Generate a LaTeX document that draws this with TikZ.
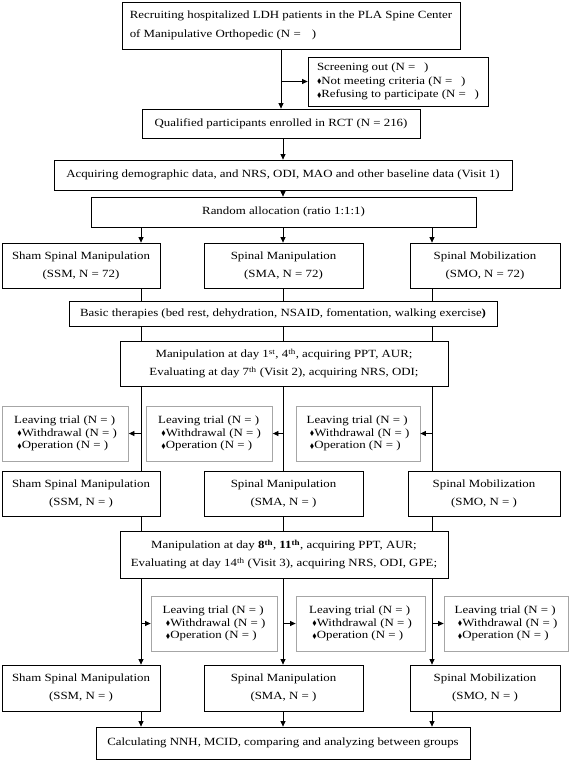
\documentclass[tikz,border=0pt]{standalone}
\usepackage{amssymb}
\usepackage{fontspec}
\setmainfont{Liberation Serif}[FakeStretch=1.17]
\usetikzlibrary{arrows.meta,positioning,calc}
\newcommand{\dia}{\raisebox{0.4pt}{\scalebox{0.6}{$\blacklozenge$}}}

\begin{document}
\begin{tikzpicture}[
    x=1pt, y=-1pt,
    box/.style={rectangle, draw, line width=0.8pt, inner sep=0pt, align=center, font=\fontsize{11}{18}\selectfont},
    leavebox/.style={rectangle, draw=gray!70, line width=0.8pt, inner sep=0pt, align=left, minimum width=126pt, minimum height=55pt, font=\fontsize{11}{12.8}\selectfont},
    arrow/.style={-{Triangle[length=5.5pt,width=5pt]}, line width=0.8pt},
    line/.style={line width=0.8pt}
]
\useasboundingbox (0,0) rectangle (569,761);

% columns of the three groups
\coordinate (c1) at (141,0);
\coordinate (c2) at (283,0);
\coordinate (c3) at (432,0);

\node[box, align=left, minimum width=338pt, minimum height=47pt, font=\fontsize{11}{19}\selectfont] (recruit) at (291,25.5)
    {Recruiting hospitalized LDH patients in the PLA Spine Center\\of Manipulative Orthopedic (N =\hspace{1em})};
\node[box, align=left, minimum width=180pt, minimum height=49pt, font=\fontsize{11}{13.5}\selectfont] (screen) at (398,81.5)
    {Screening out (N =\hspace{0.8em})\\\dia Not meeting criteria (N =\hspace{0.8em})\\\dia Refusing to participate (N =\hspace{0.8em})};
\node[box, minimum width=278pt, minimum height=29pt] (qual) at (281,123.5)
    {Qualified participants enrolled in RCT (N = 216)};
\node[box, minimum width=458pt, minimum height=30pt] (acq) at (283,175)
    {Acquiring demographic data, and NRS, ODI, MAO and other baseline data (Visit 1)};
\node[box, minimum width=385pt, minimum height=30pt] (rand) at (283.5,212)
    {Random allocation (ratio 1:1:1)};

\node[box, minimum width=158pt, minimum height=45pt] (ssm1) at (81,265.5)
    {Sham Spinal Manipulation\\(SSM, N = 72)};
\node[box, minimum width=159pt, minimum height=45pt] (sma1) at (283.5,265.5)
    {Spinal Manipulation\\(SMA, N = 72)};
\node[box, minimum width=150pt, minimum height=45pt] (smo1) at (485,265.5)
    {Spinal Mobilization\\(SMO, N = 72)};

\node[box, minimum width=428pt, minimum height=25pt] (basic) at (283,313.5)
    {Basic therapies (bed rest, dehydration, NSAID, fomentation, walking exercise\textbf{)}};
\node[box, minimum width=328pt, minimum height=45pt] (manip1) at (284,363.5)
    {Manipulation at day 1\textsuperscript{st}, 4\textsuperscript{th}, acquiring PPT, AUR;\\
     Evaluating at day 7\textsuperscript{th} (Visit 2), acquiring NRS, ODI;};

\node[leavebox] (leave1) at (65.5,433.5)
    {Leaving trial (N = )\\\ \dia Withdrawal (N = )\\\ \dia Operation (N = )};
\node[leavebox] (leave2) at (209.5,433.5)
    {Leaving trial (N = )\\\ \dia Withdrawal (N = )\\\ \dia Operation (N = )};
\node[leavebox, minimum width=124pt] (leave3) at (358,433.5)
    {Leaving trial (N = )\\\ \dia Withdrawal (N = )\\\ \dia Operation (N = )};

\node[box, minimum width=158pt, minimum height=45pt] (ssm2) at (81,493.5)
    {Sham Spinal Manipulation\\(SSM, N = )};
\node[box, minimum width=159pt, minimum height=45pt] (sma2) at (283.5,493.5)
    {Spinal Manipulation\\(SMA, N = )};
\node[box, minimum width=152pt, minimum height=45pt] (smo2) at (484,493.5)
    {Spinal Mobilization\\(SMO, N = )};

\node[box, minimum width=328pt, minimum height=47pt] (manip2) at (284,554.5)
    {Manipulation at day \textbf{8}\textsuperscript{\textbf{th}}, \textbf{11}\textsuperscript{\textbf{th}}, acquiring PPT, AUR;\\
     Evaluating at day 14\textsuperscript{th} (Visit 3), acquiring NRS, ODI, GPE;};

\node[leavebox] (leave4) at (214,623.5)
    {Leaving trial (N = )\\\ \dia Withdrawal (N = )\\\ \dia Operation (N = )};
\node[leavebox, minimum width=129pt] (leave5) at (360.5,623.5)
    {Leaving trial (N = )\\\ \dia Withdrawal (N = )\\\ \dia Operation (N = )};
\node[leavebox, minimum width=124pt] (leave6) at (506,623.5)
    {Leaving trial (N = )\\\ \dia Withdrawal (N = )\\\ \dia Operation (N = )};

\node[box, minimum width=158pt, minimum height=46pt] (ssm3) at (81,688)
    {Sham Spinal Manipulation\\(SSM, N = )};
\node[box, minimum width=159pt, minimum height=46pt] (sma3) at (283.5,688)
    {Spinal Manipulation\\(SMA, N = )};
\node[box, minimum width=150pt, minimum height=46pt] (smo3) at (485,688)
    {Spinal Mobilization\\(SMO, N = )};

\node[box, minimum width=374pt, minimum height=32pt] (final) at (283,743)
    {Calculating NNH, MCID, comparing and analyzing between groups};

% enrolment
\draw[arrow] (qual.north |- recruit.south) -- (qual.north);
\draw[arrow] (qual.north |- screen.west) -- (screen.west);
\draw[arrow] (qual.south -| c2) -- (acq.north -| c2);
\draw[arrow] (acq.south -| c2) -- (rand.north -| c2);

% allocation
\draw[arrow] (rand.south -| c1) -- (ssm1.north -| c1);
\draw[arrow] (rand.south -| c2) -- (sma1.north -| c2);
\draw[arrow] (rand.south -| c3) -- (smo1.north -| c3);

\draw[line] (ssm1.south -| c1) -- (basic.north -| c1);
\draw[line] (sma1.south -| c2) -- (basic.north -| c2);
\draw[line] (smo1.south -| c3) -- (basic.north -| c3);
\draw[line] (basic.south -| c1) -- (manip1.north -| c1);
\draw[line] (basic.south -| c2) -- (manip1.north -| c2);
\draw[line] (basic.south -| c3) -- (manip1.north -| c3);

% first week
\draw[line] (manip1.south -| c1) -- (ssm2.north -| c1);
\draw[line] (manip1.south -| c2) -- (sma2.north -| c2);
\draw[line] (manip1.south -| c3) -- (smo2.north -| c3);
\draw[arrow] (leave1.east -| c1) -- (leave1.east);
\draw[arrow] (leave2.east -| c2) -- (leave2.east);
\draw[arrow] (leave3.east -| c3) -- (leave3.east);

\draw[line] (ssm2.south -| c1) -- (manip2.north -| c1);
\draw[line] (sma2.south -| c2) -- (manip2.north -| c2);
\draw[line] (smo2.south -| c3) -- (manip2.north -| c3);

% second week
\draw[arrow] (manip2.south -| c1) -- (ssm3.north -| c1);
\draw[arrow] (manip2.south -| c2) -- (sma3.north -| c2);
\draw[arrow] (manip2.south -| c3) -- (smo3.north -| c3);
\draw[arrow] (leave4.west -| c1) -- (leave4.west);
\draw[arrow] (leave5.west -| c2) -- (leave5.west);
\draw[arrow] (leave6.west -| c3) -- (leave6.west);

\draw[arrow] (ssm3.south -| c1) -- (final.north -| c1);
\draw[arrow] (sma3.south -| c2) -- (final.north -| c2);
\draw[arrow] (smo3.south -| c3) -- (final.north -| c3);

\end{tikzpicture}
\end{document}
